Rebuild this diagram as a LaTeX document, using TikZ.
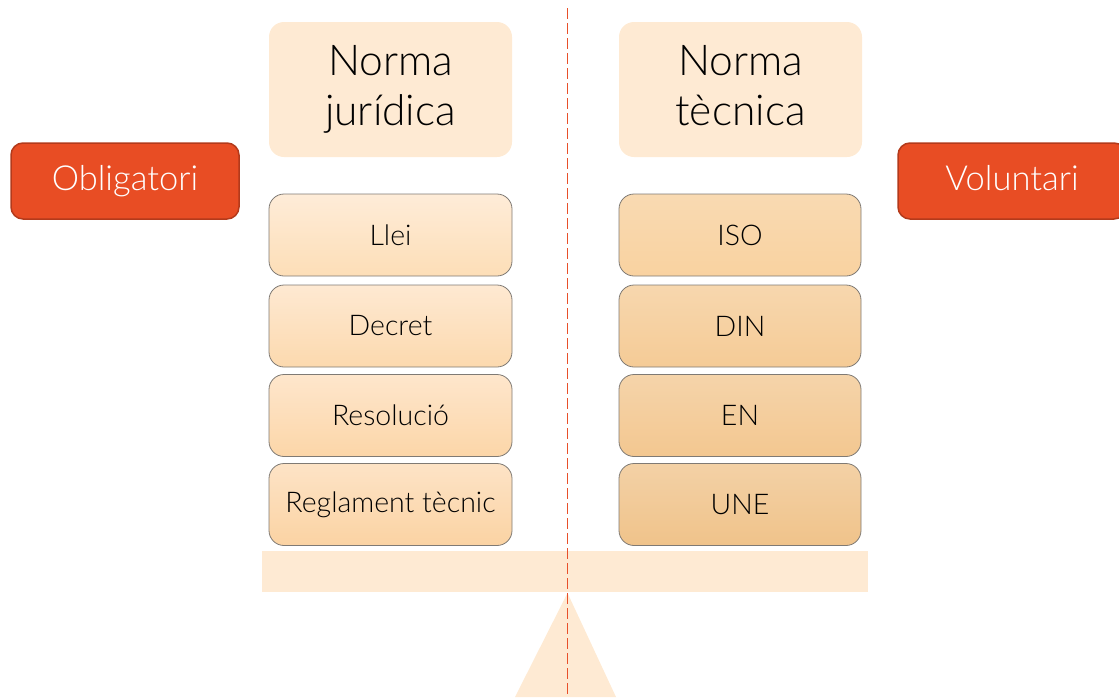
\documentclass[tikz,border=0pt]{standalone}
\usepackage{fontspec}
\setmainfont{Lato Light}
\definecolor{hdrfill}{HTML}{FEEAD3}
\definecolor{redbox}{HTML}{E84D24}
\definecolor{redborder}{HTML}{B33A1B}
\definecolor{axisred}{HTML}{E8502A}
\definecolor{boxline}{HTML}{7F7A74}
\begin{document}
\begin{tikzpicture}[x=1pt,y=-1pt,
  header/.style={fill=hdrfill, rounded corners=15pt, minimum width=243pt, minimum height=135pt,
    inner sep=0pt, align=center, font=\fontsize{42.5}{50}\selectfont},
  tag/.style={fill=redbox, draw=redborder, line width=1.5pt, rounded corners=12pt, minimum width=228pt,
    minimum height=76pt, inner sep=0pt, text=white, font=\fontsize{34.5}{40}\selectfont},
  stepbox/.style={draw=boxline, line width=0.8pt, rounded corners=15pt, minimum width=243pt,
    minimum height=82pt, inner sep=0pt, font=\fontsize{28.5}{33}\selectfont},
  axisline/.style={draw=axisred, line width=1.4pt, dash pattern=on 10.5pt off 4.5pt},
]
\useasboundingbox (0,0) rectangle (1119,697);
\clip (0,0) rectangle (1119,697);
% plank and fulcrum
\fill[hdrfill] (262,551) rectangle (868,592);
\coordinate (apex) at (567.5,593);
\coordinate (bl) at (515,697);
\coordinate (br) at (616,697);
\fill[hdrfill] (apex) -- (br) -- (bl) -- cycle;
% dashed axis
\coordinate (ltop) at (567.5,8);
\coordinate (lbot) at (567.5,697);
\draw[axisline] (ltop) -- (lbot);
% headers
\node[header] (nj) at (390.5,89.5) {Norma\\jurídica};
\node[header] (nt) at (740.5,89.5) {Norma\\tècnica\vphantom{j}};
% tags
\node[tag] (obl) at (125,181) {Obligatori\vphantom{V}};
\node[tag] (vol) at (1012,181) {Voluntari\vphantom{g}};
% left column
\node[stepbox, top color={rgb,255:red,254;green,236;blue,216}, bottom color={rgb,255:red,253;green,222;blue,183}] (llei) at (390.5,235) {Llei};
\node[stepbox, top color={rgb,255:red,254;green,233;blue,210}, bottom color={rgb,255:red,252;green,217;blue,174}] (decret) at (390.5,326) {Decret};
\node[stepbox, top color={rgb,255:red,254;green,230;blue,204}, bottom color={rgb,255:red,252;green,214;blue,168}] (resol) at (390.5,415.5) {Resolució};
\node[stepbox, top color={rgb,255:red,253;green,227;blue,198}, bottom color={rgb,255:red,251;green,211;blue,163}] (regl) at (390.5,504.5) {Reglament tècnic};
% right column
\node[stepbox, minimum width=242pt, top color={rgb,255:red,249;green,218;blue,178}, bottom color={rgb,255:red,249;green,210;blue,160}] (iso) at (740,235) {ISO};
\node[stepbox, minimum width=242pt, top color={rgb,255:red,247;green,215;blue,174}, bottom color={rgb,255:red,245;green,203;blue,150}] (din) at (740,326) {DIN};
\node[stepbox, minimum width=242pt, top color={rgb,255:red,245;green,212;blue,170}, bottom color={rgb,255:red,243;green,199;blue,144}] (en) at (740,415.5) {EN};
\node[stepbox, minimum width=242pt, top color={rgb,255:red,243;green,209;blue,166}, bottom color={rgb,255:red,240;green,195;blue,138}] (une) at (740,504.5) {UNE};
\end{tikzpicture}
\end{document}
